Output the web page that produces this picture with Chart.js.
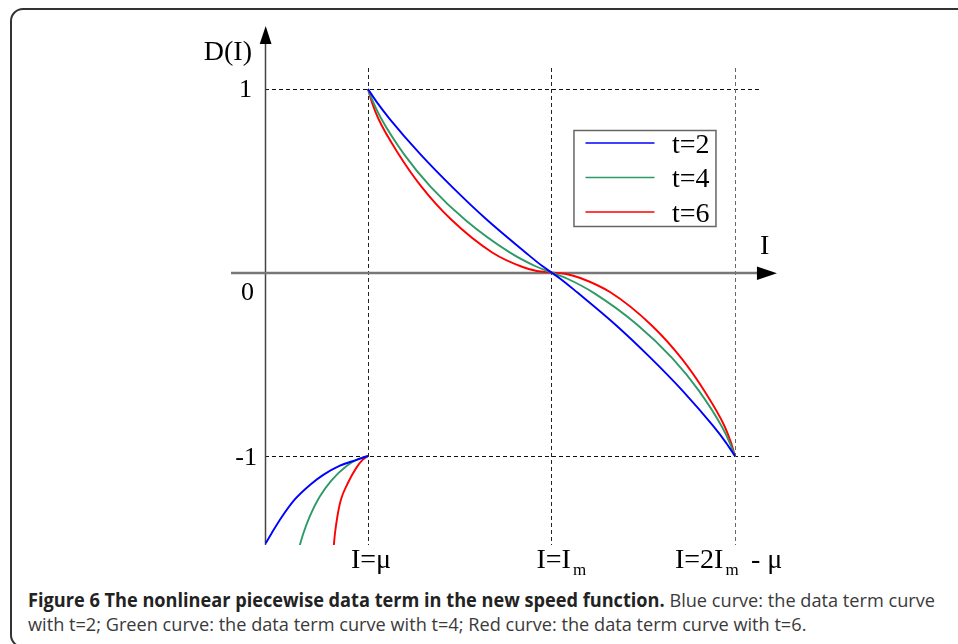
<!DOCTYPE html>
<html><head><meta charset="utf-8">
<script src="https://cdn.jsdelivr.net/npm/chart.js@4.4.0/dist/chart.umd.min.js"></script>
<style>
html,body{margin:0;padding:0;background:#fff;}
body{width:958px;height:644px;overflow:hidden;position:relative;}
#frame{position:absolute;left:10px;top:8px;width:1000px;height:640px;border:2px solid #333;border-radius:13px;box-sizing:border-box;}
#wrap{position:absolute;left:0;top:0;width:958px;height:580px;}
#cap{position:absolute;left:28px;top:588px;font-family:"Open Sans",sans-serif;font-size:19px;line-height:24px;color:#3a3a3a;white-space:nowrap;transform-origin:0 0;}
#cap b{color:#222;font-weight:700;}
#cap div{display:block;}
#cap span.l{display:inline-block;}
</style></head>
<body>
<div id="frame"></div>
<div id="wrap"><canvas id="c" width="958" height="580"></canvas></div>
<div id="cap"><div><span class="l" id="l1"><b>Figure 6 The nonlinear piecewise data term in the new speed function.</b> Blue curve: the data term curve</span></div><div><span class="l">with t=2; Green curve: the data term curve with t=4; Red curve: the data term curve with t=6.</span></div></div>
<script>
// ---- data (x: μ=1, Im=2, 2Im-μ=3) ----
const seriesLabels = ['t=2', 't=4', 't=6'];
const seriesColors = ['#0000ff', '#2e9a68', '#ff0000'];

const mainX_t2 = [1, 1.05, 1.12, 1.285, 1.457, 1.645, 1.86, 1.95, 2, 2.05, 2.14, 2.355, 2.543, 2.715, 2.88, 2.95, 3];
const mainY_t2 = [1, 0.9255, 0.835, 0.645, 0.468, 0.29, 0.108, 0.035, 0, -0.035, -0.108, -0.29, -0.468, -0.645, -0.835, -0.9255, -1];
const mainX_t4 = [1, 1.029, 1.071, 1.198, 1.343, 1.534, 1.77, 1.916, 2, 2.084, 2.23, 2.466, 2.657, 2.802, 2.929, 2.971, 3];
const mainY_t4 = [1, 0.9266, 0.8405, 0.6424, 0.4655, 0.2831, 0.1108, 0.0327, 0, -0.0327, -0.1108, -0.2831, -0.4655, -0.6424, -0.8405, -0.9266, -1];
const mainX_t6 = [1, 1.022, 1.058, 1.162, 1.289, 1.452, 1.679, 1.843, 1.92, 2, 2.08, 2.157, 2.321, 2.548, 2.711, 2.838, 2.942, 2.978, 3];
const mainY_t6 = [1, 0.9255, 0.835, 0.653, 0.471, 0.29, 0.108, 0.03, 0.008, 0, -0.008, -0.03, -0.108, -0.29, -0.471, -0.653, -0.835, -0.9255, -1];

const leftX_t2 = [0.4423, 0.475, 0.53, 0.60, 0.69, 0.7564, 0.8474, 0.9384, 1];
const leftY_t2 = [-1.476, -1.4204, -1.3324, -1.2379, -1.1524, -1.1026, -1.0526, -1.0207, -1];
const leftX_t4 = [0.6258, 0.6476, 0.6803, 0.734, 0.80, 0.885, 0.945, 1];
const leftY_t4 = [-1.494, -1.4221, -1.3338, -1.2264, -1.134, -1.0532, -1.0172, -1];
const leftX_t6 = [0.8129, 0.8202, 0.8329, 0.852, 0.889, 0.938, 0.972, 1];
const leftY_t6 = [-1.494, -1.421, -1.331, -1.24, -1.15, -1.062, -1.02, -1];

const yTickValues = [1, 0, -1];
const yTickLabels = ['1', '0', '-1'];
const xMarkValues = [1, 2, 3];

const zip = (xs, ys) => xs.map((x, i) => ({x: x, y: ys[i]}));
const mains = [zip(mainX_t2, mainY_t2), zip(mainX_t4, mainY_t4), zip(mainX_t6, mainY_t6)];
const lefts = [zip(leftX_t2, leftY_t2), zip(leftX_t4, leftY_t4), zip(leftX_t6, leftY_t6)];

const datasets = [];
for (let i = 0; i < 3; i++) {
  datasets.push({label: seriesLabels[i], data: mains[i], borderColor: seriesColors[i], borderWidth: 1.9,
    showLine: true, pointRadius: 0, cubicInterpolationMode: 'monotone', fill: false});
}
for (let i = 0; i < 3; i++) {
  datasets.push({label: seriesLabels[i] + ' left', data: lefts[i], borderColor: seriesColors[i], borderWidth: 1.9,
    showLine: true, pointRadius: 0, cubicInterpolationMode: 'monotone', fill: false});
}

const SERIF = '"Liberation Serif","Times New Roman",serif';

function dashLine(ctx, x1, y1, x2, y2, color) {
  ctx.save(); ctx.strokeStyle = color; ctx.lineWidth = 1; ctx.setLineDash([4, 3]);
  ctx.beginPath(); ctx.moveTo(x1, y1); ctx.lineTo(x2, y2); ctx.stroke(); ctx.restore();
}

const decor = {
  id: 'decor',
  beforeDatasetsDraw(chart) {
    const ctx = chart.ctx, xs = chart.scales.x, ys = chart.scales.y, a = chart.chartArea;
    const x0 = a.left, yZero = ys.getPixelForValue(0);
    [1, -1].forEach(v => { const y = Math.round(ys.getPixelForValue(v)) + 0.5; dashLine(ctx, x0, y, xs.getPixelForValue(3) + 25, y, '#111'); });
    xMarkValues.forEach((v, i) => { const x = Math.round(xs.getPixelForValue(v)) + 0.5;
      dashLine(ctx, x, ys.getPixelForValue(1) - 21, x, a.bottom, i === 2 ? '#666' : '#222'); });
    ctx.save();
    ctx.strokeStyle = '#444'; ctx.lineWidth = 1.5;
    ctx.beginPath(); ctx.moveTo(x0 + 0.5, a.top + 22); ctx.lineTo(x0 + 0.5, a.bottom); ctx.stroke();
    ctx.fillStyle = '#000';
    ctx.beginPath(); ctx.moveTo(x0 + 0.7, a.top + 6); ctx.lineTo(x0 + 6.5, a.top + 24); ctx.lineTo(x0 - 5.3, a.top + 24); ctx.closePath(); ctx.fill();
    const xEnd = xs.getPixelForValue(3);
    ctx.strokeStyle = '#777'; ctx.lineWidth = 2.5;
    ctx.beginPath(); ctx.moveTo(x0 - 34, yZero + 0.5); ctx.lineTo(xEnd + 24, yZero + 0.5); ctx.stroke();
    ctx.fillStyle = '#000';
    ctx.beginPath(); ctx.moveTo(xEnd + 42, yZero + 0.8); ctx.lineTo(xEnd + 22, yZero - 6); ctx.lineTo(xEnd + 22, yZero + 7.5); ctx.closePath(); ctx.fill();
    ctx.restore();
  },
  afterDraw(chart) {
    const ctx = chart.ctx, xs = chart.scales.x, ys = chart.scales.y, a = chart.chartArea;
    const x0 = a.left;
    ctx.save();
    ctx.fillStyle = '#000';
    ctx.textBaseline = 'alphabetic';
    ctx.font = '28px ' + SERIF; ctx.textAlign = 'right';
    ctx.fillText('D(I)', x0 - 13, a.top + 40);
    ctx.textAlign = 'left';
    ctx.fillText('I', xs.getPixelForValue(3) + 25, ys.getPixelForValue(0) - 18);
    ctx.font = '26px ' + SERIF; ctx.textAlign = 'right';
    const yOff = [8, 28, 9], xOff = [13, 11, 8];
    yTickValues.forEach((v, i) => ctx.fillText(yTickLabels[i], x0 - xOff[i], ys.getPixelForValue(v) + yOff[i]));
    const base = a.bottom + 23;
    const px1 = xs.getPixelForValue(1), px2 = xs.getPixelForValue(2), px3 = xs.getPixelForValue(3);
    ctx.font = '28px ' + SERIF; ctx.textAlign = 'center';
    ctx.fillText('I=\u03bc', px1 + 3, base);
    ctx.textAlign = 'left';
    ctx.fillText('I=I', px2 - 15, base);
    let w = ctx.measureText('I=I').width;
    ctx.font = '17px ' + SERIF; ctx.fillText('m', px2 - 15 + w + 2, base + 7);
    ctx.font = '28px ' + SERIF;
    ctx.fillText('I=2I', px3 - 60, base);
    w = ctx.measureText('I=2I').width;
    ctx.font = '17px ' + SERIF; ctx.fillText('m', px3 - 60 + w + 2, base + 7);
    ctx.font = '28px ' + SERIF; ctx.fillText('- \u03bc', px3 + 16, base);
    const lx = px2 + 22, ly = ys.getPixelForValue(1) + 41, lw = 142, lh = 96;
    ctx.strokeStyle = '#666'; ctx.lineWidth = 1.5;
    ctx.strokeRect(lx + 0.5, ly + 0.5, lw, lh);
    chart.data.datasets.slice(0, 3).forEach((d, i) => {
      const yy = ly + 13 + i * 34.5;
      ctx.strokeStyle = d.borderColor; ctx.lineWidth = 1.6;
      ctx.beginPath(); ctx.moveTo(lx + 12, yy); ctx.lineTo(lx + 81, yy); ctx.stroke();
      ctx.fillStyle = '#000'; ctx.font = '28px ' + SERIF; ctx.textAlign = 'right';
      ctx.fillText(d.label, lx + 136, yy + 10);
    });
    ctx.restore();
  }
};

new Chart(document.getElementById('c'), {
  type: 'scatter',
  data: {datasets: datasets},
  options: {
    responsive: false, animation: false, devicePixelRatio: 1,
    layout: {padding: {left: 265, right: 168, top: 20, bottom: 35}},
    plugins: {legend: {display: false}, tooltip: {enabled: false}},
    scales: {
      x: {type: 'linear', min: 0.4387, max: 3.3, display: false},
      y: {type: 'linear', min: -1.485, max: 1.376, display: false}
    }
  },
  plugins: [decor]
});

const l1 = document.getElementById('l1');
const s = 907 / l1.getBoundingClientRect().width;
document.getElementById('cap').style.transform = 'scaleX(' + s + ')';
</script>
</body></html>
